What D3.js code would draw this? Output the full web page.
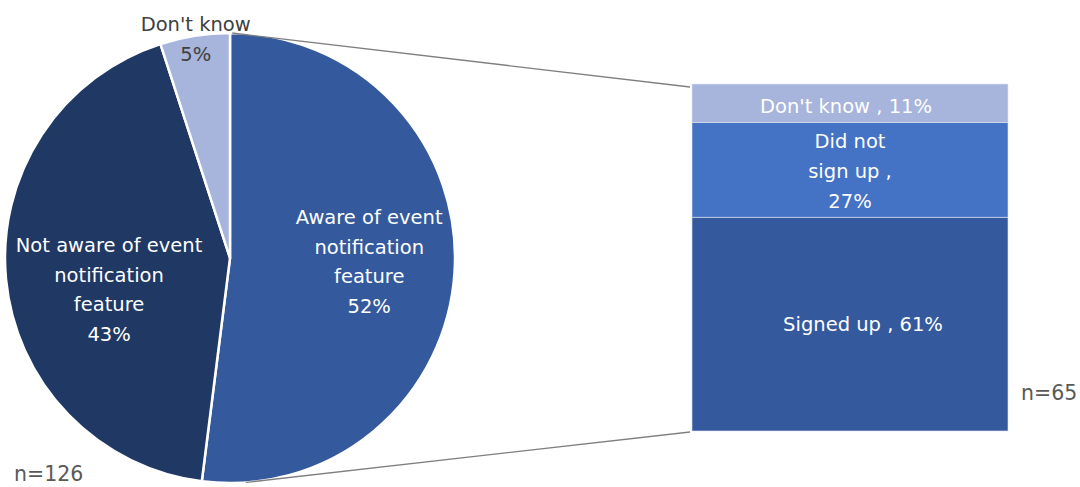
<!DOCTYPE html>
<html>
<head>
<meta charset="utf-8">
<script src="https://cdn.jsdelivr.net/npm/d3@7"></script>
<style>
  html, body { margin: 0; padding: 0; background: #fff; }
  svg { display: block; }
  text { font-family: "DejaVu Sans", "Noto Sans", sans-serif; }
</style>
</head>
<body>
<svg id="chart" width="1080" height="487"></svg>
<script>
// Awareness of the event notification feature (pie)
const pieCategories = ["Aware of event notification feature", "Not aware of event notification feature", "Don't know"];
const pieLabelLines = [["Aware of event", "notification", "feature"], ["Not aware of event", "notification", "feature"], ["Don't know"]];
const pieValues = [52, 43, 5];
const pieN = "n=126";

// Breakdown of those who are aware (bar)
const barCategories = ["Signed up", "Did not sign up", "Don't know"];
const barLabelLines = [["Signed up , 61%"], ["Did not", "sign up ,", "27%"], ["Don't know , 11%"]];
const barValues = [61, 27, 11];
const barN = "n=65";

const svg = d3.select("#chart");

const pieColors = ["#345a9d", "#203864", "#a7b4db"];
const barColors = ["#345a9d", "#4472c4", "#a7b4db"];

// ---------- pie ----------
const cx = 230, cy = 258, R = 225;
const pie = d3.pie().sort(null).value(d => d).startAngle(0).endAngle(2 * Math.PI);
const arcs = pie(pieValues);
const arc = d3.arc().innerRadius(0).outerRadius(R);

const gPie = svg.append("g").attr("transform", `translate(${cx},${cy})`);
gPie.selectAll("path.slice")
  .data(arcs)
  .join("path")
  .attr("class", "slice")
  .attr("d", arc)
  .attr("fill", (d, i) => pieColors[i])
  .attr("stroke", "#fff")
  .attr("stroke-width", 2.5)
  .attr("stroke-linejoin", "round");

// ---------- bar ----------
const barX0 = 692, barX1 = 1008, barTop = 84, barBottom = 431;
const barTotal = d3.sum(barValues);
const yBar = d3.scaleLinear().domain([0, barTotal]).range([barBottom, barTop]);
const stacked = [];
let acc = 0;
barValues.forEach((v, i) => { stacked.push({ i, y0: acc, y1: acc + v }); acc += v; });

svg.append("g").selectAll("rect")
  .data(stacked)
  .join("rect")
  .attr("x", barX0)
  .attr("width", barX1 - barX0)
  .attr("y", d => yBar(d.y1))
  .attr("height", d => yBar(d.y0) - yBar(d.y1))
  .attr("fill", d => barColors[d.i])
  .attr("stroke", "#dfe5f3")
  .attr("stroke-width", 0.6);

// ---------- connector lines ----------
const splitArc = arcs[0];
const ptOnPie = a => [cx + R * Math.sin(a), cy - R * Math.cos(a)];
const pTop = ptOnPie(splitArc.startAngle + 0.01);
const pBot = ptOnPie(Math.PI - 0.07);
const conn = svg.append("g").attr("stroke", "#7f7f7f").attr("stroke-width", 1.3).attr("fill", "none");
conn.append("line").attr("x1", pTop[0]).attr("y1", pTop[1]).attr("x2", barX0 - 2).attr("y2", yBar(barTotal) + 3);
conn.append("line").attr("x1", pBot[0]).attr("y1", pBot[1]).attr("x2", barX0 - 2).attr("y2", yBar(0) + 1);

// ---------- pie labels ----------
const lineH = 29.5;
const labelArc = d3.arc();
const pieLabelPlacement = [
  { r: 0.62, dy: -5, fill: "#fff" },
  { r: 0.54, dy: 20, fill: "#fff" },
  { r: 0.975, dy: -2, fill: "#404040" }
];
const gLab = svg.append("g").attr("transform", `translate(${cx},${cy})`);
arcs.forEach((a, i) => {
  const p = pieLabelPlacement[i];
  const c = labelArc.innerRadius(R * p.r).outerRadius(R * p.r).centroid(a);
  const lines = pieLabelLines[i].concat([pieValues[i] + "%"]);
  const t = gLab.append("text")
    .attr("text-anchor", "middle")
    .attr("fill", p.fill)
    .attr("font-size", 19.5)
    .attr("x", c[0])
    .attr("y", c[1] + p.dy - (lines.length - 1) * lineH / 2);
  lines.forEach((s, k) => {
    t.append("tspan").attr("x", c[0]).attr("dy", k === 0 ? "0.35em" : lineH).text(s);
  });
});

// ---------- bar labels ----------
const barLabelDx = [13, 0, -4];
const barLabelDy = [0, 1, 3];
stacked.forEach(d => {
  const lines = barLabelLines[d.i];
  const xm = (barX0 + barX1) / 2 + barLabelDx[d.i];
  const ym = (yBar(d.y0) + yBar(d.y1)) / 2 + barLabelDy[d.i];
  const t = svg.append("text")
    .attr("text-anchor", "middle")
    .attr("fill", "#fff")
    .attr("font-size", 19.5)
    .attr("y", ym - (lines.length - 1) * 30 / 2);
  lines.forEach((s, k) => {
    t.append("tspan").attr("x", xm).attr("dy", k === 0 ? "0.35em" : 30).text(s);
  });
});

// ---------- sample sizes ----------
svg.append("text").attr("x", 14).attr("y", 481).attr("fill", "#595959")
  .attr("font-size", 20.5).text(pieN);
svg.append("text").attr("x", 1021).attr("y", 400).attr("fill", "#595959")
  .attr("font-size", 20.5).text(barN);
</script>
</body>
</html>
